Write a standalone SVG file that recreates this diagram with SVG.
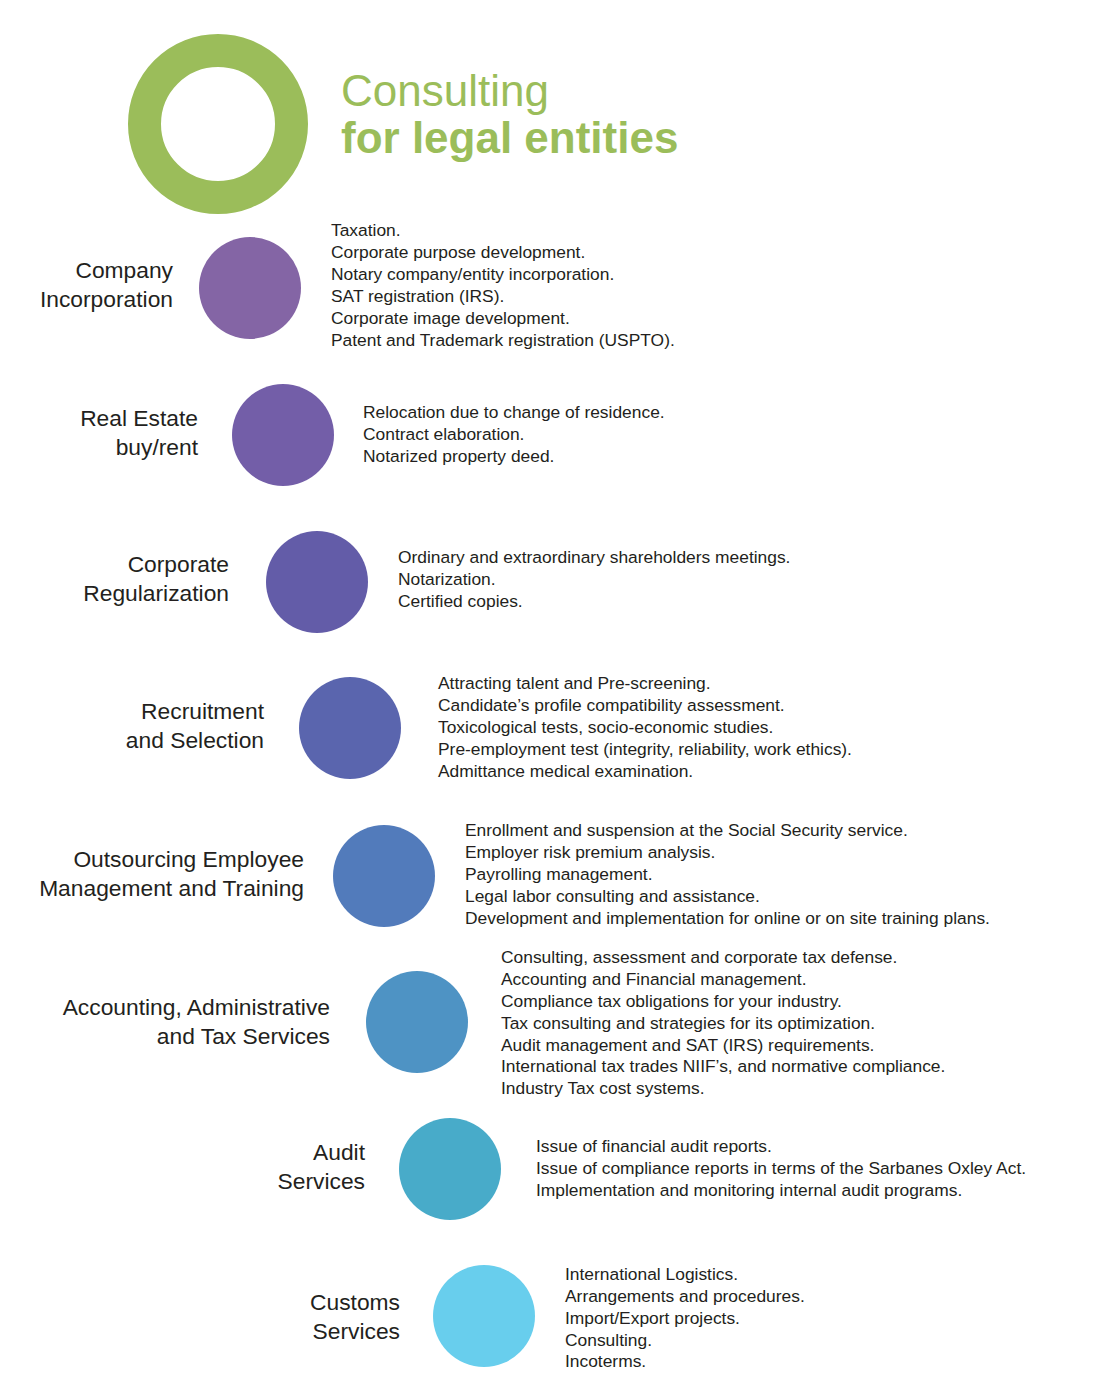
<svg xmlns="http://www.w3.org/2000/svg" width="1116" height="1400" viewBox="0 0 1116 1400">
<style>
text{font-family:"Liberation Sans",Arial,sans-serif;fill:#231f20}
.lab{font-size:22.8px;text-anchor:end}
.it{font-size:17.4px}
.t1{font-size:44px;fill:#9bbd5a}
.t2{font-size:44px;fill:#9bbd5a;font-weight:bold}
</style>
<rect width="1116" height="1400" fill="#fff"/>
<g id="title">
<circle cx="218" cy="124" r="73.5" fill="none" stroke="#9bbd5a" stroke-width="33"/>
<text class="t1" x="341" y="106">Consulting</text>
<text class="t2" x="341" y="153">for legal entities</text>
</g>
<g id="n1"><circle cx="250" cy="288" r="51" fill="#8465a5"/>
<text class="lab" x="173" y="278">Company</text><text class="lab" x="173" y="307">Incorporation</text>
<text class="it" x="331" y="236">Taxation.</text><text class="it" x="331" y="258">Corporate purpose development.</text><text class="it" x="331" y="280">Notary company/entity incorporation.</text><text class="it" x="331" y="302">SAT registration (IRS).</text><text class="it" x="331" y="324">Corporate image development.</text><text class="it" x="331" y="346">Patent and Trademark registration (USPTO).</text></g>
<g id="n2"><circle cx="283" cy="435" r="51" fill="#735ea8"/>
<text class="lab" x="198" y="426">Real Estate</text><text class="lab" x="198" y="455">buy/rent</text>
<text class="it" x="363" y="418">Relocation due to change of residence.</text><text class="it" x="363" y="440">Contract elaboration.</text><text class="it" x="363" y="462">Notarized property deed.</text></g>
<g id="n3"><circle cx="317" cy="582" r="51" fill="#635ca8"/>
<text class="lab" x="229" y="572">Corporate</text><text class="lab" x="229" y="601">Regularization</text>
<text class="it" x="398" y="563">Ordinary and extraordinary shareholders meetings.</text><text class="it" x="398" y="585">Notarization.</text><text class="it" x="398" y="607">Certified copies.</text></g>
<g id="n4"><circle cx="350" cy="728" r="51" fill="#5a65ae"/>
<text class="lab" x="264" y="719">Recruitment</text><text class="lab" x="264" y="748">and Selection</text>
<text class="it" x="438" y="689">Attracting talent and Pre-screening.</text><text class="it" x="438" y="711">Candidate’s profile compatibility assessment.</text><text class="it" x="438" y="733">Toxicological tests, socio-economic studies.</text><text class="it" x="438" y="755">Pre-employment test (integrity, reliability, work ethics).</text><text class="it" x="438" y="777">Admittance medical examination.</text></g>
<g id="n5"><circle cx="384" cy="876" r="51" fill="#527bbb"/>
<text class="lab" x="304" y="867">Outsourcing Employee</text><text class="lab" x="304" y="896">Management and Training</text>
<text class="it" x="465" y="836">Enrollment and suspension at the Social Security service.</text><text class="it" x="465" y="858">Employer risk premium analysis.</text><text class="it" x="465" y="880">Payrolling management.</text><text class="it" x="465" y="902">Legal labor consulting and assistance.</text><text class="it" x="465" y="924">Development and implementation for online or on site training plans.</text></g>
<g id="n6"><circle cx="417" cy="1022" r="51" fill="#4e93c4"/>
<text class="lab" x="330" y="1015">Accounting, Administrative</text><text class="lab" x="330" y="1044">and Tax Services</text>
<text class="it" x="501" y="963">Consulting, assessment and corporate tax defense.</text><text class="it" x="501" y="985">Accounting and Financial management.</text><text class="it" x="501" y="1007">Compliance tax obligations for your industry.</text><text class="it" x="501" y="1029">Tax consulting and strategies for its optimization.</text><text class="it" x="501" y="1051">Audit management and SAT (IRS) requirements.</text><text class="it" x="501" y="1072">International tax trades NIIF’s, and normative compliance.</text><text class="it" x="501" y="1094">Industry Tax cost systems.</text></g>
<g id="n7"><circle cx="450" cy="1169" r="51" fill="#48abc9"/>
<text class="lab" x="365" y="1160">Audit</text><text class="lab" x="365" y="1189">Services</text>
<text class="it" x="536" y="1152">Issue of financial audit reports.</text><text class="it" x="536" y="1174">Issue of compliance reports in terms of the Sarbanes Oxley Act.</text><text class="it" x="536" y="1196">Implementation and monitoring internal audit programs.</text></g>
<g id="n8"><circle cx="484" cy="1316" r="51" fill="#68ceed"/>
<text class="lab" x="400" y="1310">Customs</text><text class="lab" x="400" y="1339">Services</text>
<text class="it" x="565" y="1280">International Logistics.</text><text class="it" x="565" y="1302">Arrangements and procedures.</text><text class="it" x="565" y="1324">Import/Export projects.</text><text class="it" x="565" y="1346">Consulting.</text><text class="it" x="565" y="1367">Incoterms.</text></g>
<g id="connectors"/>
</svg>
